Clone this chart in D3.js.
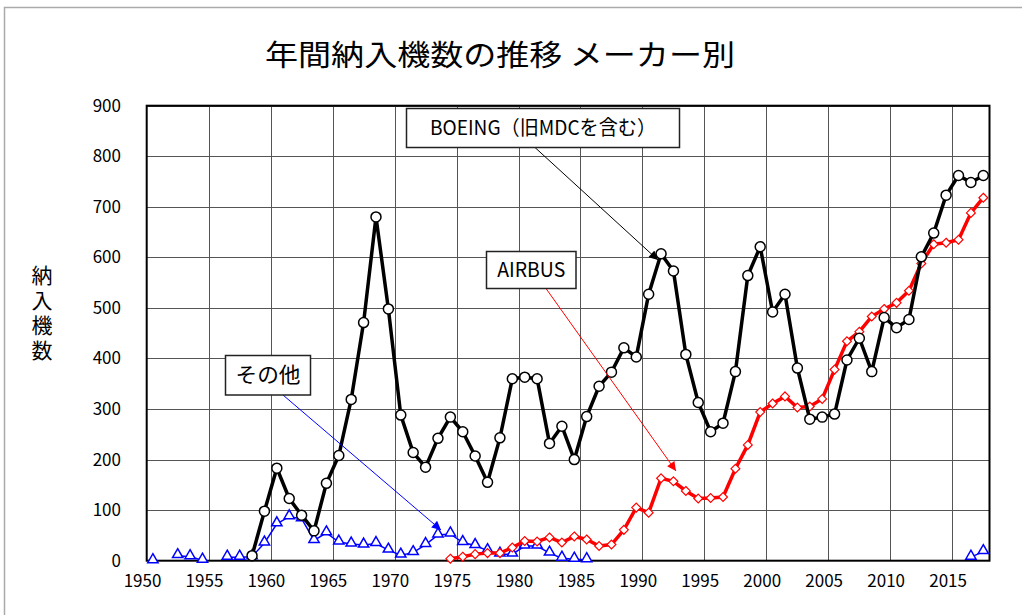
<!DOCTYPE html>
<html lang="ja">
<head>
<meta charset="utf-8">
<title>年間納入機数の推移 メーカー別</title>
<script src="https://cdnjs.cloudflare.com/ajax/libs/d3/7.8.5/d3.min.js"></script>
<style>
body { margin: 0; background: #fff; }
text { font-family: "Noto Sans CJK JP", "Noto Sans", sans-serif; fill: #000; }
.grid line { stroke: #555; stroke-width: 1; shape-rendering: crispEdges; }
.tick-label { font-size: 17px; }
</style>
</head>
<body>
<svg width="1022" height="615"></svg>
<script>

// data
var boeingYears = [1959,1960,1961,1962,1963,1964,1965,1966,1967,1968,1969,1970,1971,1972,1973,1974,1975,1976,1977,1978,1979,1980,1981,1982,1983,1984,1985,1986,1987,1988,1989,1990,1991,1992,1993,1994,1995,1996,1997,1998,1999,2000,2001,2002,2003,2004,2005,2006,2007,2008,2009,2010,2011,2012,2013,2014,2015,2016,2017,2018];
var boeing = [10,98,183,123,90,59,153,208,319,471,680,498,288,214,185,242,284,255,207,155,243,360,363,360,232,266,200,285,345,373,421,403,527,607,573,408,313,255,272,374,564,621,492,527,381,280,284,290,397,440,374,481,461,477,601,648,723,762,748,762];

var airbusYears = [1975,1976,1977,1978,1979,1980,1981,1982,1983,1984,1985,1986,1987,1988,1989,1990,1991,1992,1993,1994,1995,1996,1997,1998,1999,2000,2001,2002,2003,2004,2005,2006,2007,2008,2009,2010,2011,2012,2013,2014,2015,2016,2017,2018];
var airbus = [4,8,13,15,15,26,39,38,46,36,48,42,29,32,61,105,95,163,157,138,123,124,126,182,229,294,311,325,303,305,320,378,434,453,483,498,510,534,588,626,629,635,688,718];

// null = no delivery recorded (line broken)
var otherYears = [1951,1952,1953,1954,1955,1956,1957,1958,1959,1960,1961,1962,1963,1964,1965,1966,1967,1968,1969,1970,1971,1972,1973,1974,1975,1976,1977,1978,1979,1980,1981,1982,1983,1984,1985,1986,1987,2016,2017,2018];
var others = [0,null,10,8,1,null,7,7,8,35,73,87,83,40,55,37,33,31,34,21,11,16,32,51,53,36,30,20,13,13,29,29,15,5,3,2,null,null,7,18];

var xTickYears = [1950,1955,1960,1965,1970,1975,1980,1985,1990,1995,2000,2005,2010,2015];
var yTicks = [0,100,200,300,400,500,600,700,800,900];

var svg = d3.select("svg");

var x = d3.scaleLinear().domain([1950.5, 2018.5]).range([146.7, 989.5]);
var y = d3.scaleLinear().domain([0, 900]).range([560.7, 105.7]);

// outer frame (only top and left edges visible)
svg.append("path")
    .attr("d", "M4.5,620V7.5H1030")
    .attr("fill", "none")
    .attr("stroke", "#aaa")
    .attr("stroke-width", 1.5);

// title
svg.append("text")
    .attr("x", 500)
    .attr("y", 66)
    .attr("text-anchor", "middle")
    .attr("font-size", 29)
    .attr("textLength", 470)
    .attr("lengthAdjust", "spacingAndGlyphs")
    .text("年間納入機数の推移 メーカー別");

// y axis title, written vertically
svg.append("text")
    .attr("x", 42)
    .attr("y", 265)
    .attr("font-size", 21)
    .style("writing-mode", "vertical-rl")
    .style("letter-spacing", "4px")
    .text("納入機数");

// grid
var grid = svg.append("g").attr("class", "grid");
grid.selectAll(".h").data(yTicks.slice(1)).enter().append("line")
    .attr("x1", x.range()[0]).attr("x2", x.range()[1])
    .attr("y1", function(d) { return Math.round(y(d)) + 0.5; })
    .attr("y2", function(d) { return Math.round(y(d)) + 0.5; });
grid.selectAll(".v").data(xTickYears.slice(1)).enter().append("line")
    .attr("x1", function(d) { return Math.round(x(d + 0.5)) + 0.5; })
    .attr("x2", function(d) { return Math.round(x(d + 0.5)) + 0.5; })
    .attr("y1", y.range()[1]).attr("y2", y.range()[0]);

// plot border
svg.append("rect")
    .attr("x", x.range()[0])
    .attr("y", y.range()[1])
    .attr("width", x.range()[1] - x.range()[0])
    .attr("height", y.range()[0] - y.range()[1])
    .attr("fill", "none")
    .attr("stroke", "#000")
    .attr("stroke-width", 2);

// tick labels
svg.append("g").selectAll("text").data(yTicks).enter().append("text")
    .attr("class", "tick-label")
    .attr("x", 121)
    .attr("y", function(d) { return y(d) + 6; })
    .attr("text-anchor", "end")
    .text(function(d) { return d; });

svg.append("g").selectAll("text").data(xTickYears).enter().append("text")
    .attr("class", "tick-label")
    .attr("x", function(d) { return x(d) + 2; })
    .attr("y", 587)
    .attr("text-anchor", "middle")
    .text(function(d) { return d; });

// series
function pairs(years, vals) {
  return years.map(function(yr, i) { return {year: yr, value: vals[i]}; });
}

var line = d3.line()
    .defined(function(d) { return d.value != null; })
    .x(function(d) { return x(d.year); })
    .y(function(d) { return y(d.value); });

var otherData = pairs(otherYears, others);
var airbusData = pairs(airbusYears, airbus);
var boeingData = pairs(boeingYears, boeing);

svg.append("path").datum(otherData)
    .attr("d", line).attr("fill", "none")
    .attr("stroke", "#0000ff").attr("stroke-width", 1.5);
svg.append("g").selectAll("path").data(otherData.filter(function(d) { return d.value != null; }))
    .enter().append("path")
    .attr("d", d3.symbol().type(d3.symbolTriangle).size(46))
    .attr("transform", function(d) { return "translate(" + x(d.year) + "," + (y(d.value) - 1) + ")"; })
    .attr("fill", "#fff").attr("stroke", "#0000ff").attr("stroke-width", 1.5);

svg.append("path").datum(airbusData)
    .attr("d", line).attr("fill", "none")
    .attr("stroke", "#ff0000").attr("stroke-width", 3.5);
svg.append("g").selectAll("path").data(airbusData)
    .enter().append("path")
    .attr("d", d3.symbol().type(d3.symbolDiamond2).size(50))
    .attr("transform", function(d) { return "translate(" + x(d.year) + "," + y(d.value) + ")"; })
    .attr("fill", "#fff").attr("stroke", "#ff0000").attr("stroke-width", 1.2);

svg.append("path").datum(boeingData)
    .attr("d", line).attr("fill", "none")
    .attr("stroke", "#000").attr("stroke-width", 3.5);
svg.append("g").selectAll("circle").data(boeingData)
    .enter().append("circle")
    .attr("cx", function(d) { return x(d.year); })
    .attr("cy", function(d) { return y(d.value); })
    .attr("r", 5)
    .attr("fill", "#fff").attr("stroke", "#000").attr("stroke-width", 1.5);

// callouts
var defs = svg.append("defs");
["#000", "#ff0000", "#0000ff"].forEach(function(c, i) {
  defs.append("marker")
      .attr("id", "arr" + i)
      .attr("viewBox", "0 -5 10 10")
      .attr("refX", 10).attr("refY", 0)
      .attr("markerWidth", 14).attr("markerHeight", 9)
      .attr("markerUnits", "userSpaceOnUse")
      .attr("orient", "auto")
    .append("path")
      .attr("d", "M0,-5L10,0L0,5Z")
      .attr("fill", c);
});

var callouts = [
  {text: "BOEING（旧MDCを含む）", bx: 406.5, by: 108.5, bw: 273, bh: 39, tl: 226, fs: 20, color: "#000", m: 0, x1: 535, y1: 147.5, x2: 658, y2: 260},
  {text: "AIRBUS", bx: 486.5, by: 251.5, bw: 89.5, bh: 37, tl: 68, fs: 20, color: "#ff0000", m: 1, x1: 546, y1: 288.5, x2: 676, y2: 471},
  {text: "その他", bx: 225.5, by: 355.5, bw: 85, bh: 39.5, tl: 65, fs: 21, color: "#0000ff", m: 2, x1: 283, y1: 395, x2: 441, y2: 530}
];

callouts.forEach(function(c) {
  svg.append("line")
      .attr("x1", c.x1).attr("y1", c.y1)
      .attr("x2", c.x2).attr("y2", c.y2)
      .attr("stroke", c.color).attr("stroke-width", 1)
      .attr("marker-end", "url(#arr" + c.m + ")");
  svg.append("rect")
      .attr("x", c.bx).attr("y", c.by)
      .attr("width", c.bw).attr("height", c.bh)
      .attr("fill", "#fff").attr("stroke", "#222").attr("stroke-width", 1.5);
  svg.append("text")
      .attr("x", c.bx + c.bw / 2)
      .attr("y", c.by + c.bh / 2 + 7)
      .attr("text-anchor", "middle")
      .attr("font-size", c.fs)
      .attr("textLength", c.tl)
      .attr("lengthAdjust", "spacingAndGlyphs")
      .text(c.text);
});

</script>
</body>
</html>
